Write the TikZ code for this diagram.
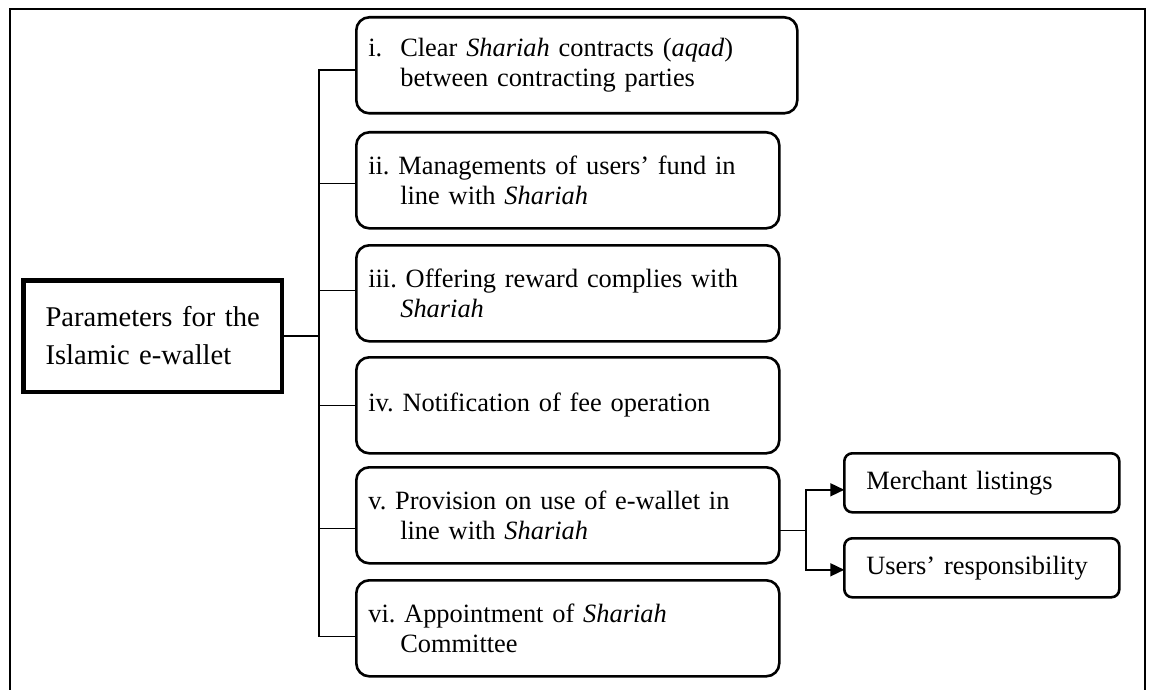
\documentclass[tikz,border=0pt]{standalone}
\usepackage{fontspec}
\setmainfont{Liberation Serif}
\usetikzlibrary{arrows.meta}
\frenchspacing
\tikzset{
  frameline/.style={line width=2pt, line cap=rect},
  conn/.style={line width=1.6pt},
  arrowconn/.style={line width=1.6pt, -{Triangle[length=14pt,width=13pt]}},
  mainbox/.style={draw, line width=4.5pt, outer sep=0pt, anchor=north west, minimum width=258.5pt, minimum height=111.5pt,
    inner xsep=22pt, inner ysep=0pt, text width=214pt, align=left,
    font=\fontsize{28.6}{38}\selectfont},
  itembox/.style={draw, line width=2.6pt, outer sep=0pt, rounded corners=13pt, anchor=north west,
    minimum height=96pt, inner xsep=12pt, inner ysep=0pt, text width=#1, align=left,
    font=\fontsize{26.4}{29.5}\selectfont},
  subbox/.style={draw, line width=2.6pt, outer sep=0pt, rounded corners=8pt, anchor=north west,
    minimum height=59pt, inner xsep=22pt, inner ysep=0pt, text width=231pt, align=left,
    font=\fontsize{26.4}{29.5}\selectfont},
}
\newcommand{\lbl}[1]{\makebox[32pt][l]{#1}}
\newcommand{\hang}{\hspace*{32pt}}
\begin{document}
\begin{tikzpicture}[x=1pt,y=-1pt]
\useasboundingbox (0,0) rectangle (1151,690);
\fill[white] (0,0) rectangle (1151,690);
% outer frame
\draw[frameline] (9.5,692) -- (9.5,9) -- (1145,9) -- (1145,692);

\node[mainbox] (main) at (23.25,280.25) {\mbox{Parameters for the}\\\mbox{Islamic e-wallet}};

\node[itembox=417pt] (b1) at (356.3,17.3) {\lbl{i.}Clear \textit{Shariah} contracts (\textit{aqad})\\\hang between contracting parties};
\node[itembox=399pt] (b2) at (356.3,132.3) {ii. Managements of users’ fund in\\\hang line with \textit{Shariah}};
\node[itembox=399pt] (b3) at (356.3,245.3) {iii. Offering reward complies with\\\hang \textit{Shariah}};
\node[itembox=399pt] (b4) at (356.3,357.3) {iv. Notification of fee operation};
\node[itembox=399pt] (b5) at (356.3,467.3) {v. Provision on use of e-wallet in\\\hang line with \textit{Shariah}};
\node[itembox=399pt] (b6) at (356.3,580.3) {vi. Appointment of \textit{Shariah}\\\hang Committee};

\node[subbox] (merchant) at (844.3,453.3) {Merchant listings};
\node[subbox] (users) at (844.3,538.3) {Users’ responsibility};

\coordinate (trunk) at ([xshift=37.25pt]main.east);
\coordinate (fork) at ([xshift=26.7pt,yshift=-15pt]b5.east);

\draw[conn] (main.east) -- (trunk);
\draw[conn] (trunk) |- ([yshift=-5pt]b1.west);
\draw[conn] (trunk) |- ([yshift=-3pt]b2.west);
\draw[conn] (trunk) |- ([yshift=3pt]b3.west);
\draw[conn] (trunk) |- (b4.west);
\draw[conn] (trunk) |- ([yshift=-13pt]b5.west);
\draw[conn] (trunk) |- ([yshift=-8pt]b6.west);

\draw[conn] ([yshift=-15pt]b5.east) -- (fork);
\draw[arrowconn] (fork) |- ([yshift=-7pt]merchant.west);
\draw[arrowconn] (fork) |- ([yshift=-2pt]users.west);
\end{tikzpicture}
\end{document}
